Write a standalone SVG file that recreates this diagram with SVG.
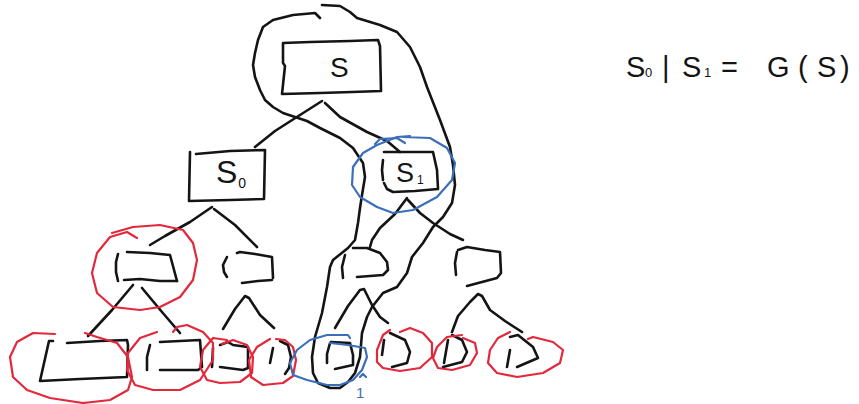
<svg xmlns="http://www.w3.org/2000/svg" width="859" height="404" viewBox="0 0 859 404">
<style>
.k{fill:none;stroke:#141414;stroke-width:2.6;stroke-linecap:round;stroke-linejoin:round}
.r{fill:none;stroke:#e3283c;stroke-width:2.2;stroke-linecap:round;stroke-linejoin:round}
.b{fill:none;stroke:#3b6fba;stroke-width:2.2;stroke-linecap:round;stroke-linejoin:round}
.t{font-family:"Liberation Sans","DejaVu Sans",sans-serif;fill:#141414}
</style>
<rect width="859" height="404" fill="#fff"/>
<g id="connectors">
<polyline class="k" points="322,101 300,115 275,131 255,147"/>
<polyline class="k" points="325,103 340,117 367,132 387,141 400,152"/>
<polyline class="k" points="212,207 190,222 165,236 150,245"/>
<polyline class="k" points="214,209 235,225 257,247"/>
<polyline class="k" points="407,198 395,214 380,228 372,240 370,247"/>
<polyline class="k" points="408,200 420,213 433,223 450,234 463,240"/>
<polyline class="k" points="133,285 112,310 88,336"/>
<polyline class="k" points="142,288 162,312 180,333"/>
<polyline class="k" points="223,329 235,309 245,296 249,298 260,315 274,328"/>
<polyline class="k" points="335,328 348,306 360,290 364,289 372,305 380,317 388,323"/>
<polyline class="k" points="452,332 458,316 470,302 478,294 482,296 490,310 505,321 522,332"/>
<polyline class="k" points="320,18 315,13 293,15 273,20 263,27 258,40 255,53 253,65 255,77 260,90 265,100 273,107 283,113 307,121 320,128 340,138 353,148 363,163 365,177 362,195 360,208 358,223 355,240 348,248 333,260 330,267 327,287 322,313 315,337 312,357 313,373 318,383 330,388 340,388 348,382 355,373 360,357 362,333 367,317 372,307 383,293 397,287 407,273 412,257 423,243 433,227 443,217 452,203 455,185 453,165 450,147 440,120 427,87 420,67 410,47 397,32 380,25 357,18 350,12 340,6 322,5"/>
</g>
<g id="node-s">
<polyline class="k" points="283,63 285,66 282,94 320,93 352,92 381,91 380,46 378,40 350,41 310,42 283,43 283,63"/>
<text class="t" x="330" y="77" font-size="28">S</text>
</g>
<g id="node-s0">
<polyline class="k" points="196,154 230,151 265,150 264,199 230,200 189,201 190,152"/>
<text class="t" x="216" y="183" font-size="32">S<tspan font-size="14" dx="1" dy="5">0</tspan></text>
</g>
<g id="node-s1">
<polyline class="k" points="384,152 433,152 437,170 438,189 415,191 393,192 387,189 384,183"/>
<polyline class="k" points="383,160 382,170 383,180"/>
<text class="t" x="396" y="182" font-size="27">S<tspan font-size="12" dx="3" dy="2">1</tspan></text>
</g>
<g id="node-a">
<polyline class="k" points="118,254 116,262 116,272 118,281"/>
<polyline class="k" points="127,252 150,253 170,255 177,281"/>
<polyline class="k" points="124,280 140,279 160,281 177,281"/>
</g>
<g id="node-b">
<polyline class="k" points="227,257 223,265 224,272 227,277"/>
<polyline class="k" points="237,253 240,252 255,254 272,257 273,278"/>
<polyline class="k" points="242,283 258,281 272,280"/>
</g>
<g id="node-c">
<polyline class="k" points="345,255 342,267 343,278"/>
<polyline class="k" points="353,248 367,248 380,253 387,262 388,270 383,275 370,276 357,277"/>
</g>
<g id="node-d">
<polyline class="k" points="457,252 455,263 456,275"/>
<polyline class="k" points="458,250 467,247 485,250 500,252 501,273 497,278 482,282 467,286"/>
</g>
<g id="node-l1">
<polyline class="k" points="53,341 49,341 40,381 80,379 127,377 128,345 127,340 100,341 67,343"/>
</g>
<g id="node-l2">
<polyline class="k" points="150,345 147,357 147,370"/>
<polyline class="k" points="160,342 200,340 202,367 198,370 160,370"/>
</g>
<g id="node-l3">
<polyline class="k" points="213,348 212,367"/>
<polyline class="k" points="220,345 228,342 233,345 248,347 248,368 243,370 220,367"/>
</g>
<g id="node-l4">
<polyline class="k" points="273,348 270,363"/>
<polyline class="k" points="280,341 288,345 291,357 289,368 285,374"/>
</g>
<g id="node-l5">
<polyline class="k" points="330,343 327,354 327,363"/>
<polyline class="k" points="331,342 350,343 353,355 353,365 335,369"/>
</g>
<g id="node-l6">
<polyline class="k" points="384,340 382,355"/>
<polyline class="k" points="390,333 405,340 410,352 407,363 392,367"/>
</g>
<g id="node-l7">
<polyline class="k" points="448,340 444,363"/>
<polyline class="k" points="452,335 462,340 467,352 462,362 443,367"/>
</g>
<g id="node-l8">
<polyline class="k" points="510,350 507,367"/>
<polyline class="k" points="510,337 518,335 533,347 538,358 517,367"/>
</g>
<g id="red-marks">
<polyline class="r" points="112,233 133,227 160,225 183,230 193,243 197,260 193,280 180,297 160,307 140,310 113,307 97,293 92,273 97,253 110,237 127,232 137,238"/>
<polyline class="r" points="55,334 33,333 17,342 10,357 13,377 27,390 50,398 83,403 110,400 128,390 132,377 128,357 117,343 97,337 85,333"/>
<polyline class="r" points="157,332 140,338 128,353 127,370 135,385 153,390 180,390 200,380 213,360 213,343 203,332 187,325 177,327 173,332"/>
<polyline class="r" points="227,340 213,338 203,350 200,367 207,380 220,383 240,382 252,373 253,357 247,345 233,340 222,344"/>
<polyline class="r" points="270,339 257,347 249,360 251,377 263,385 283,383 293,376 296,360 293,347 285,340 276,339"/>
<polyline class="r" points="390,330 383,335 377,350 377,362 383,368 400,371 420,368 432,357 432,343 423,333 410,328 400,332"/>
<polyline class="r" points="462,335 447,337 437,347 433,358 438,368 452,370 470,365 477,353 475,343 463,338"/>
<polyline class="r" points="510,332 498,338 490,350 488,363 497,373 517,377 543,373 560,363 563,350 553,342 533,337 528,339"/>
</g>
<g id="blue-marks">
<polyline class="b" points="375,144 380,139 397,138 405,143"/>
<polyline class="b" points="403,137 430,138 447,148 455,163 452,180 437,197 413,210 393,213 377,207 360,197 352,185 353,167 363,153 377,145 397,137 410,136"/>
<polyline class="b" points="350,338 348,335 327,335 310,340 297,350 290,363 293,375 307,380 327,385 340,385 353,380 362,370 367,357 365,348 348,345 330,343"/>
<polyline class="b" points="360,377 363,374 366,377"/>
<text x="356" y="398" font-size="15" fill="#3b6fba" font-family="Liberation Sans, sans-serif">1</text>
</g>
<g id="formula">
<text class="t" y="77" font-size="29"><tspan x="626">S</tspan><tspan x="645" font-size="13">0</tspan><tspan x="662">|</tspan><tspan x="682">S</tspan><tspan x="704" font-size="13">1</tspan><tspan x="721">=</tspan><tspan x="767">G</tspan><tspan x="798">(</tspan><tspan x="817">S</tspan><tspan x="840">)</tspan></text>
</g>
</svg>
